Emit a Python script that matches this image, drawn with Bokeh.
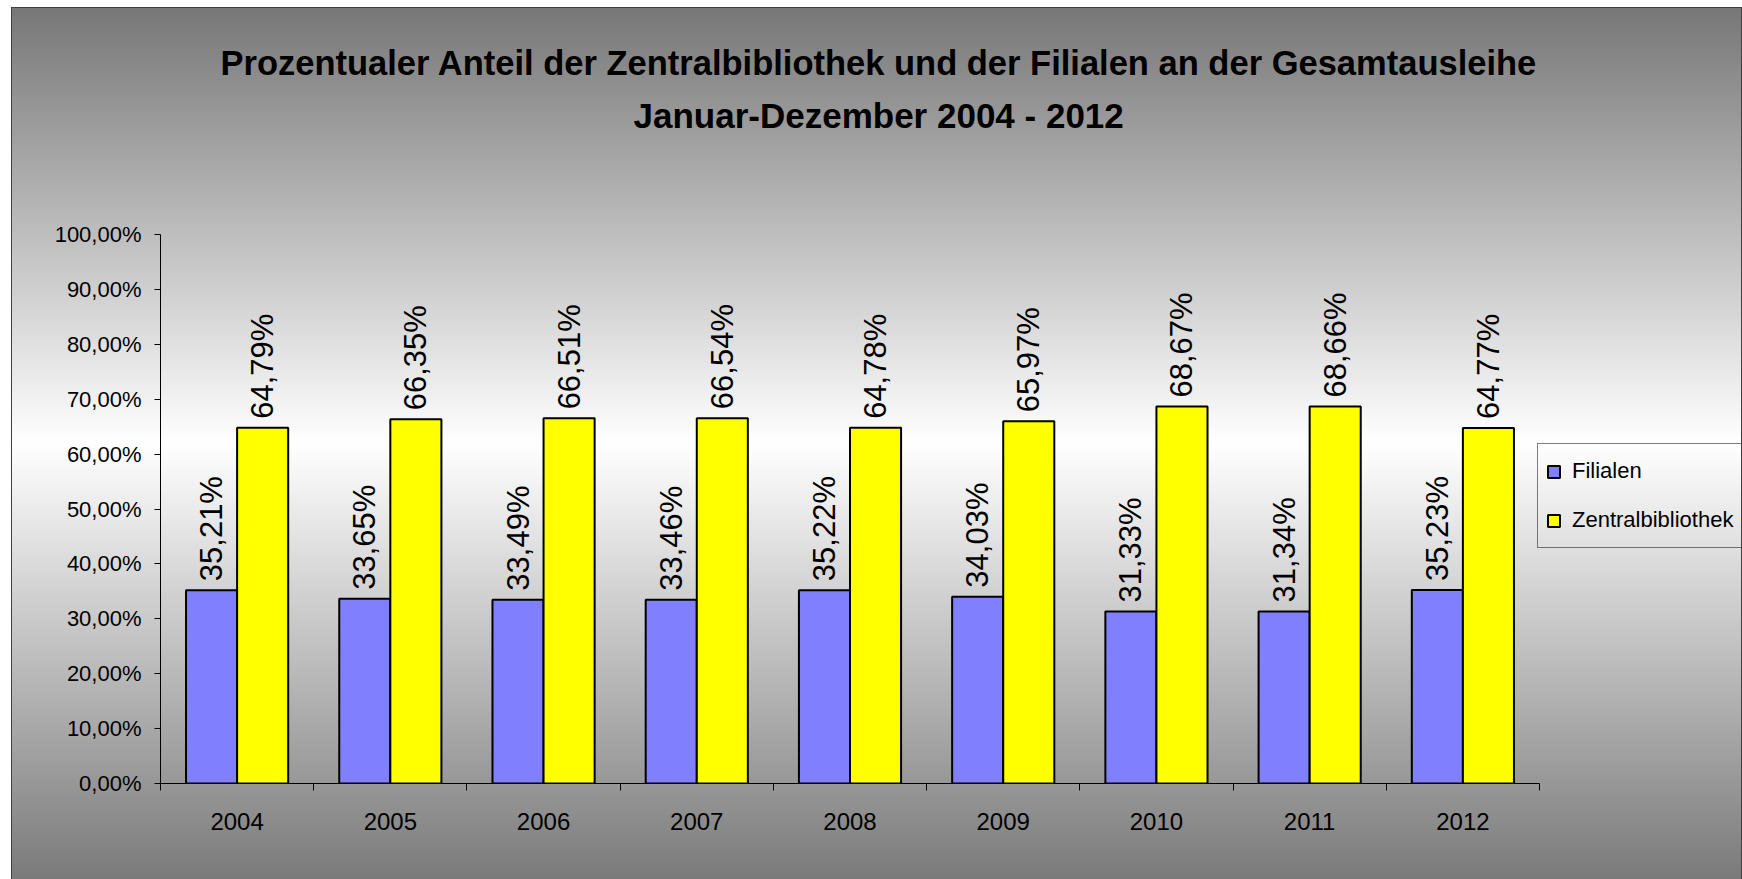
from bokeh.plotting import figure
from bokeh.models import (Range1d, FixedTicker, ColumnDataSource, LabelSet, Title,
                          Legend, LegendItem)
from bokeh.core.properties import value
from bokeh.embed import file_html
from bokeh.resources import INLINE

# ---- data ----
years = ["2004", "2005", "2006", "2007", "2008", "2009", "2010", "2011", "2012"]
filialen = [35.21, 33.65, 33.49, 33.46, 35.22, 34.03, 31.33, 31.34, 35.23]
zentral = [64.79, 66.35, 66.51, 66.54, 64.78, 65.97, 68.67, 68.66, 64.77]
y_ticks = [0, 10, 20, 30, 40, 50, 60, 70, 80, 90, 100]
y_tick_labels = [f"{t},00%" for t in y_ticks]
series_names = ["Filialen", "Zentralbibliothek"]
title_lines = ["Prozentualer Anteil der Zentralbibliothek und der Filialen an der Gesamtausleihe",
               "Januar-Dezember 2004 - 2012"]

FONT = "Liberation Sans"
W, H = 1742, 879
n = len(years)
# the frame runs on to the chart's right edge, leaving room for the legend beside the bars
x_end = n * (1581.0 / 1379.0)

p = figure(width=W, height=H, output_backend="svg", toolbar_location=None,
           x_range=Range1d(0, x_end), y_range=Range1d(0, 100),
           min_border_left=160, min_border_right=1, min_border_top=234, min_border_bottom=96)
p.border_fill_color = None
p.background_fill_color = None
p.outline_line_color = None
p.grid.visible = False
p.styles = {
    "background": ("linear-gradient(to bottom, #777777 0%, #ffffff 50%, #7a7a7a 100%) "
                   "12px 8px / calc(100% - 13px) calc(100% - 8px) no-repeat, "
                   "linear-gradient(#404040, #404040) 11px 7px / calc(100% - 11px) calc(100% - 7px) no-repeat, "
                   "#ffffff"),
}

bw = 1.0 / 3.0
idx = list(range(n))
src = ColumnDataSource(dict(
    xf=[i + 0.5 - bw / 2 for i in idx],
    xz=[i + 0.5 + bw / 2 for i in idx],
    f=filialen, z=zentral,
    fl=[f"{v:.2f}%".replace(".", ",") for v in filialen],
    zl=[f"{v:.2f}%".replace(".", ",") for v in zentral],
))

rf = p.vbar(x="xf", top="f", width=bw, bottom=0, source=src,
            fill_color="#8080FF", line_color="black", line_width=2)
rz = p.vbar(x="xz", top="z", width=bw, bottom=0, source=src,
            fill_color="#FFFF00", line_color="black", line_width=2)

for xcol, ycol, tcol in [("xf", "f", "fl"), ("xz", "z", "zl")]:
    p.add_layout(LabelSet(x=xcol, y=ycol, text=tcol, source=src, angle=90, angle_units="deg",
                          text_align="left", text_baseline="middle", y_offset=9,
                          text_font=value(FONT), text_font_size="31px", text_color="black"))

# y axis
ya = p.yaxis[0]
ya.ticker = FixedTicker(ticks=y_ticks, minor_ticks=[])
ya.major_label_overrides = {t: l for t, l in zip(y_ticks, y_tick_labels)}
ya.major_label_text_font = FONT
ya.major_label_text_font_size = "22px"
ya.major_label_text_color = "black"
ya.axis_line_color = "black"
ya.major_tick_line_color = "black"
ya.major_tick_out = 6
ya.major_tick_in = 0
ya.minor_tick_out = 0
ya.minor_tick_in = 0
ya.major_label_standoff = 13

# x axis (limited to the category span)
xa = p.xaxis[0]
xa.bounds = (0, n)
xa.ticker = FixedTicker(ticks=[i + 0.5 for i in idx], minor_ticks=list(range(n + 1)))
xa.major_label_overrides = {i + 0.5: y for i, y in zip(idx, years)}
xa.major_label_text_font = FONT
xa.major_label_text_font_size = "24px"
xa.major_label_text_color = "black"
xa.axis_line_color = "black"
xa.major_tick_out = 0
xa.major_tick_in = 0
xa.minor_tick_out = 7
xa.minor_tick_in = 0
xa.minor_tick_line_color = "black"
xa.major_label_standoff = 22

# titles: a spacer nearest the frame, then line 2, then line 1
p.add_layout(Title(text=" ", text_font_size="1px", standoff=97), "above")
p.add_layout(Title(text=title_lines[1], align="left", offset=473, vertical_align="bottom", standoff=0,
                   text_font=FONT, text_font_style="bold", text_font_size="35px",
                   text_color="black"), "above")
p.add_layout(Title(text=title_lines[0], align="left", offset=60, vertical_align="bottom", standoff=24,
                   text_font=FONT, text_font_style="bold", text_font_size="34.5px",
                   text_color="black"), "above")

legend = Legend(items=[LegendItem(label=series_names[0], renderers=[rf]),
                       LegendItem(label=series_names[1], renderers=[rz])],
                location=(1377, 235), orientation="vertical",
                glyph_width=15, glyph_height=15, label_height=38, label_standoff=11,
                label_width=220, spacing=11, padding=8, margin=0,
                label_text_font=FONT, label_text_font_size="22px", label_text_color="black",
                border_line_color="black", border_line_width=1,
                background_fill_alpha=0)
p.add_layout(legend, "center")

open("out.html", "w").write(file_html(p, INLINE))
